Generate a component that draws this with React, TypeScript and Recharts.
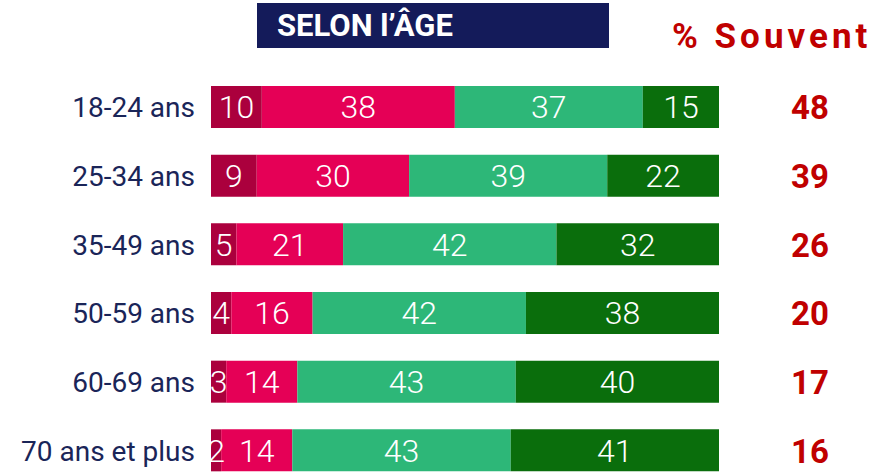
import React from 'react'
import { BarChart, Bar, XAxis, YAxis, LabelList } from 'recharts'

const ages = ['18-24 ans', '25-34 ans', '35-49 ans', '50-59 ans', '60-69 ans', '70 ans et plus']
const tresSouvent = [10, 9, 5, 4, 3, 2]
const assezSouvent = [38, 30, 21, 16, 14, 14]
const rarement = [37, 39, 42, 42, 43, 43]
const jamais = [15, 22, 32, 38, 40, 41]
const souvent = [48, 39, 26, 20, 17, 16]

const data = ages.map((age, i) => ({
  age,
  tresSouvent: tresSouvent[i],
  assezSouvent: assezSouvent[i],
  rarement: rarement[i],
  jamais: jamais[i],
  souvent: souvent[i]
}))

const series = [
  { key: 'tresSouvent', color: '#ab003d' },
  { key: 'assezSouvent', color: '#e50056' },
  { key: 'rarement', color: '#2db778' },
  { key: 'jamais', color: '#0a6e0c' }
]

const font = 'Roboto, sans-serif'

const AgeTick = ({ x, y, payload }: any) => (
  <text x={x - 8} y={y} dy={10} textAnchor="end" fill="#1a2558" fontSize={28} fontFamily={font}>
    {payload.value}
  </text>
)

const SouventTick = ({ x, y, payload }: any) => {
  const row = data.find((d) => d.age === payload.value)
  return (
    <text x={x + 83} y={y} dy={12} textAnchor="middle" fill="#c00000" fontSize={33} fontWeight={700} fontFamily={font}>
      {row ? row.souvent : ''}
    </text>
  )
}

export default function App() {
  return (
    <div style={{ position: 'absolute', left: 0, top: 0, width: 896, height: 474, overflow: 'hidden', background: '#fff', fontFamily: font }}>
      <div style={{ position: 'absolute', left: 257, top: 3, width: 352, height: 45, background: '#141b5a', color: '#fff', fontWeight: 700, fontSize: 31, lineHeight: '45px', paddingLeft: 20, boxSizing: 'border-box' }}>
        SELON l’ÂGE
      </div>
      <div style={{ position: 'absolute', left: 672, top: 15, color: '#c00000', fontWeight: 700, fontSize: 35, letterSpacing: 4, lineHeight: '44px', whiteSpace: 'nowrap' }}>
        % Souvent
      </div>
      <BarChart
        width={896}
        height={500}
        data={data}
        layout="vertical"
        margin={{ top: 73, right: 0, bottom: 15, left: 0 }}
        barSize={42}
      >
        <XAxis type="number" domain={[0, 100]} hide />
        <YAxis yAxisId="left" type="category" dataKey="age" width={211} axisLine={false} tickLine={false} tick={<AgeTick />} interval={0} />
        <YAxis yAxisId="right" orientation="right" type="category" dataKey="age" width={177} axisLine={false} tickLine={false} tick={<SouventTick />} interval={0} />
        {series.map((s) => (
          <Bar key={s.key} dataKey={s.key} stackId="a" yAxisId="left" fill={s.color} isAnimationActive={false}>
            <LabelList dataKey={s.key} position="center" fill="#fff" fontSize={32} fontWeight={300} fontFamily={font} />
          </Bar>
        ))}
      </BarChart>
    </div>
  )
}
